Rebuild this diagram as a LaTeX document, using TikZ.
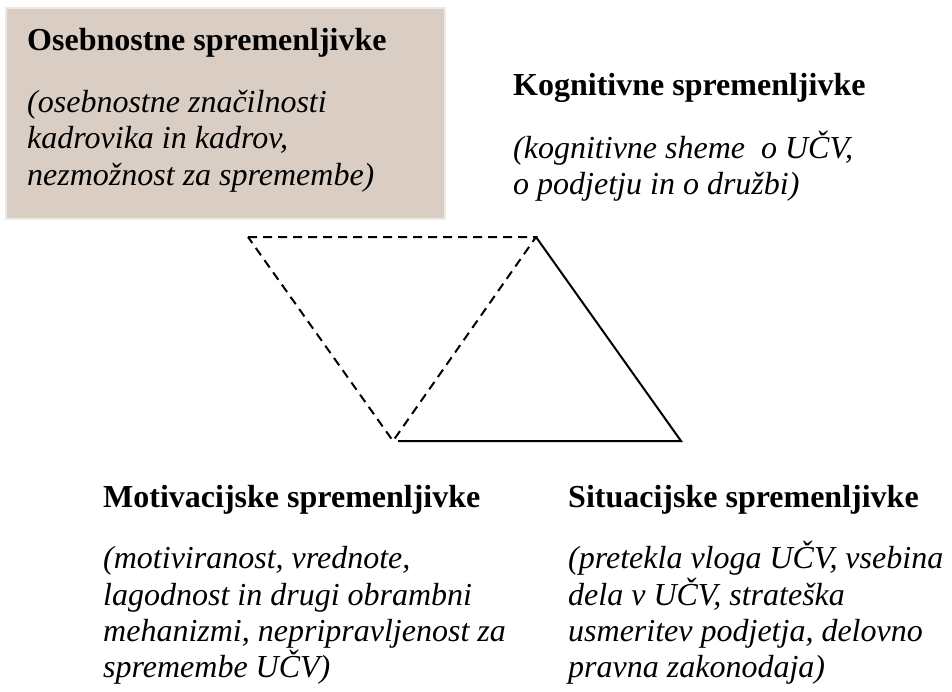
\documentclass[tikz,border=0pt]{standalone}
\usepackage{fontspec}
\setmainfont{Liberation Serif}[
  BoldFont={Liberation Serif Bold},
  ItalicFont={Liberation Serif Italic},
  BoldItalicFont={Liberation Serif Bold Italic}]
\begin{document}
\begin{tikzpicture}[x=1pt,y=-1pt,
  head/.style={anchor=base west,inner sep=0pt,font=\fontsize{32}{37}\selectfont\bfseries},
  desc/.style={anchor=base west,inner sep=0pt,font=\fontsize{32}{37}\selectfont\itshape},
  edge/.style={line width=2pt,line join=miter},
  dashedge/.style={edge,dash pattern=on 9pt off 6pt}]
\useasboundingbox (0,0) rectangle (952,691);
\definecolor{boxfill}{HTML}{D9CDC4}
\definecolor{boxline}{HTML}{EEEAE2}
% shaded panel for the personality factors
\draw[boxline,line width=2pt,fill=boxfill] (6,8) rectangle (445,219);

% personality
\node[head] (oshead) at (27,50) {Osebnostne spremenljivke};
\node[desc] (os1) at (27,112) {(osebnostne značilnosti};
\node[desc] (os2) at (27,148) {kadrovika in kadrov,};
\node[desc] (os3) at (27,185) {nezmožnost za spremembe)};
% cognitive
\node[head] (kohead) at (513,95) {Kognitivne spremenljivke};
\node[desc] (ko1) at (513,158) {(kognitivne sheme\ \ o UČV,};
\node[desc] (ko2) at (513,194) {o podjetju in o družbi)};
% motivational
\node[head] (mohead) at (103,507) {Motivacijske spremenljivke};
\node[desc] (mo1) at (103,568) {(motiviranost, vrednote,};
\node[desc] (mo2) at (103,605) {lagodnost in drugi obrambni};
\node[desc] (mo3) at (103,641) {mehanizmi, nepripravljenost za};
\node[desc] (mo4) at (103,677) {spremembe UČV)};
% situational
\node[head] (sihead) at (568,507) {Situacijske spremenljivke};
\node[desc] (si1) at (568,568) {(pretekla vloga UČV, vsebina};
\node[desc] (si2) at (568,605) {dela v UČV, strateška};
\node[desc] (si3) at (568,641) {usmeritev podjetja, delovno};
\node[desc] (si4) at (568,677) {pravna zakonodaja)};

% triangle vertices
\coordinate (tl) at (248,237);
\coordinate (tr) at (536,237);
\coordinate (bm) at (393,441);
\coordinate (bl) at (398,441);
\coordinate (br) at (681,441);

% dashed (inverted) triangle
\draw[dashedge] (tl) -- (tr) -- (bm) -- cycle;
% solid triangle
\draw[edge] (tr) -- (br) -- (bl);
\end{tikzpicture}
\end{document}
